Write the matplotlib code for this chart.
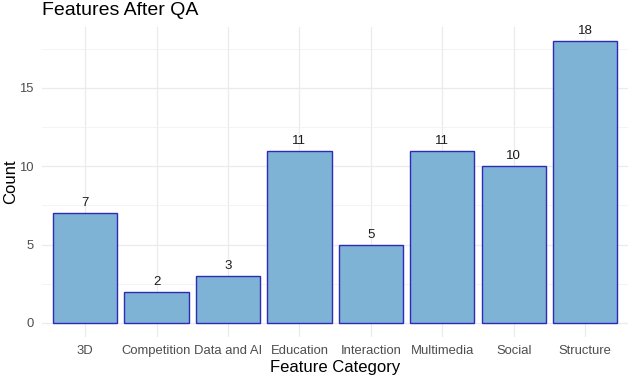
import matplotlib
matplotlib.use("Agg")
import matplotlib.pyplot as plt
import numpy as np

categories = ["3D", "Competition", "Data and AI", "Education", "Interaction",
              "Multimedia", "Social", "Structure"]
counts = [7, 2, 3, 11, 5, 11, 10, 18]

plt.rcParams['font.family'] = ['Liberation Sans', 'DejaVu Sans']

fig = plt.figure(figsize=(6.3, 3.79), dpi=100)
ax = fig.add_axes([0.067, 0.111, 0.93, 0.818])

x = np.arange(1, len(categories) + 1)
ax.bar(x, counts, width=0.9, color="#7fb3d5", edgecolor="#2b2bb8", linewidth=1.0, zorder=3)

# value labels above bars
for xi, c in zip(x, counts):
    ax.text(xi, c + 0.25, str(c), ha="center", va="bottom", fontsize=9.5, color="#1a1a1a", zorder=4)

ax.set_xlim(0.4, len(categories) + 0.6)
ax.set_ylim(-0.9, 18.9)
ax.set_xticks(x)
ax.set_xticklabels(categories)
ax.set_yticks([0, 5, 10, 15])
ax.set_yticks([2.5, 7.5, 12.5, 17.5], minor=True)

ax.grid(True, which="major", color="#ebebeb", linewidth=0.9, zorder=0)
ax.grid(True, which="minor", axis="y", color="#f2f2f2", linewidth=0.6, zorder=0)
for s in ax.spines.values():
    s.set_visible(False)
ax.tick_params(axis="both", which="both", length=0, labelsize=9.4, labelcolor="#4d4d4d", pad=6)

ax.set_xlabel("Feature Category", fontsize=12, color="black", labelpad=2)
ax.set_ylabel("Count", fontsize=12, color="black", labelpad=1)
fig.text(0.067, 0.995, "Features After QA", fontsize=14, ha="left", va="top")

fig.savefig("out.png", dpi=100)
